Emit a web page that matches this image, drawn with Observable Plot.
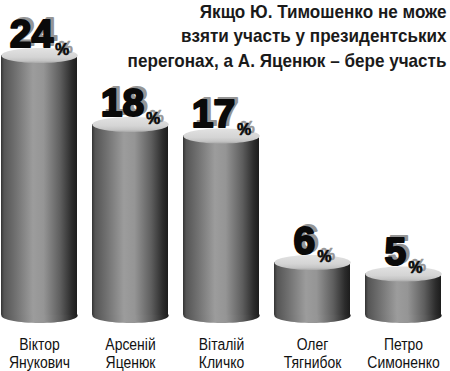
<!DOCTYPE html>
<html>
<head>
<meta charset="utf-8">
<script src="https://cdn.jsdelivr.net/npm/d3@7"></script>
<script src="https://cdn.jsdelivr.net/npm/@observablehq/plot@0.6"></script>
<style>
  html, body { margin: 0; padding: 0; background: #fff; }
  #chart svg { display: block; }
</style>
</head>
<body>
<div id="chart"></div>
<script>
// ---- data ----
const names = ["Віктор\nЯнукович", "Арсеній\nЯценюк", "Віталій\nКличко", "Олег\nТягнибок", "Петро\nСимоненко"];
const values = [24, 18, 17, 6, 5];
const unit = "%";
const titleLines = [
  "Якщо Ю. Тимошенко не може",
  "взяти участь у президентських",
  "перегонах, а А. Яценюк – бере участь"
];

const data = names.map((name, i) => ({name, value: values[i]}));

// ---- styling constants ----
const BASE = 1.4;      // cylinder floor (value units)
const RX = 38.2;       // half cylinder width, px
const RY = 7.5;        // ellipse half height, px
const FONT = "'Liberation Sans', Arial, Helvetica, sans-serif";

// custom ellipse symbol (size = pi r^2)
const ellipse = {
  draw(ctx, size) {
    const rx = Math.sqrt(size / Math.PI), ry = rx * RY / RX, k = 0.5523;
    ctx.moveTo(rx, 0);
    ctx.bezierCurveTo(rx, ry * k, rx * k, ry, 0, ry);
    ctx.bezierCurveTo(-rx * k, ry, -rx, ry * k, -rx, 0);
    ctx.bezierCurveTo(-rx, -ry * k, -rx * k, -ry, 0, -ry);
    ctx.bezierCurveTo(rx * k, -ry, rx, -ry * k, rx, 0);
    ctx.closePath();
  }
};

const chart = Plot.plot({
  width: 450,
  height: 371,
  marginLeft: 1,
  marginRight: 8,
  marginTop: 55,
  marginBottom: 40,
  style: {fontFamily: FONT},
  x: {domain: names, paddingInner: 0.16, paddingOuter: 0, label: null},
  y: {domain: [0, 24], axis: null},
  marks: [
    // bottom ellipse
    Plot.dot(data, {x: "name", y: () => BASE, r: RX, symbol: ellipse, fill: "url(#cylBody)", stroke: "none"}),
    // body
    Plot.barY(data, {x: "name", y1: () => BASE, y2: "value", fill: "url(#cylBody)"}),
    // top ellipse
    Plot.dot(data, {x: "name", y: "value", r: RX, symbol: ellipse, fill: "url(#cylTop)", stroke: "none"}),
    // value shadow
    Plot.text(data, {x: "name", y: "value", text: d => d.value + unit, lineAnchor: "bottom",
      dx: 3.5, dy: -11, fill: "#959595", stroke: "#959595", strokeWidth: 2,
      fontSize: 39, fontWeight: "bold", fontFamily: FONT, ariaDescription: "values-shadow"}),
    // value
    Plot.text(data, {x: "name", y: "value", text: d => d.value + unit, lineAnchor: "bottom",
      dx: 0, dy: -9, fill: "#0a0a0a", stroke: "#0a0a0a", strokeWidth: 2,
      fontSize: 39, fontWeight: "bold", fontFamily: FONT, ariaDescription: "values"}),
    // category labels
    Plot.axisX({tickSize: 0, tickPadding: 6, fontSize: 17, lineHeight: 1.06, label: null,
      fontFamily: FONT, fill: "#111", ariaDescription: "names"}),
    // title
    Plot.text([titleLines.join("\n")], {frameAnchor: "top-right", textAnchor: "end", lineAnchor: "top",
      dx: 4, dy: -55, fontSize: 18, fontWeight: "bold", lineHeight: 1.36, fontFamily: FONT,
      fill: "#1a1a1a", ariaDescription: "title"})
  ]
});

const svgSel = d3.select(chart);

// gradients
const defs = svgSel.insert("defs", ":first-child");
const bodyGrad = defs.append("linearGradient").attr("id", "cylBody").attr("x1", 0).attr("x2", 1).attr("y1", 0).attr("y2", 0);
[[0, "#333333"], [0.04, "#555555"], [0.2, "#727272"], [0.42, "#9c9c9c"], [0.56, "#959595"],
 [0.78, "#5e5e5e"], [0.93, "#2c2c2c"], [1, "#1c1c1c"]]
  .forEach(([o, c]) => bodyGrad.append("stop").attr("offset", o).attr("stop-color", c));
const topGrad = defs.append("linearGradient").attr("id", "cylTop").attr("x1", 0).attr("x2", 0).attr("y1", 0).attr("y2", 1);
[[0, "#e2e2e2"], [0.6, "#d4d4d4"], [0.85, "#c4c4c4"], [1, "#a8a8a8"]]
  .forEach(([o, c]) => topGrad.append("stop").attr("offset", o).attr("stop-color", c));

// squeeze text horizontally (condensed look)
function condense(sel, s) {
  sel.each(function () {
    const t = d3.select(this);
    let tr = t.attr("transform");
    if (!tr) {
      const x = +t.attr("x") || 0, y = +t.attr("y") || 0;
      t.attr("x", null).attr("y", null);
      tr = `translate(${x},${y})`;
    }
    t.attr("transform", `${tr} scale(${s},1)`);
  });
}

// small "%" sign as a tspan
svgSel.selectAll('g[aria-description="values"] text, g[aria-description="values-shadow"] text').each(function () {
  const t = d3.select(this);
  const s = t.text();
  if (!s.endsWith(unit)) return;
  t.text(s.slice(0, -unit.length));
  t.append("tspan").attr("dx", 2).attr("dy", 8).attr("font-size", 16)
    .attr("stroke-width", 0.6).text(unit);
});
condense(svgSel.selectAll('g[aria-description="names"] text'), 0.82);
condense(svgSel.selectAll('g[aria-description="title"] text'), 0.95);

document.getElementById("chart").appendChild(chart);
</script>
</body>
</html>
